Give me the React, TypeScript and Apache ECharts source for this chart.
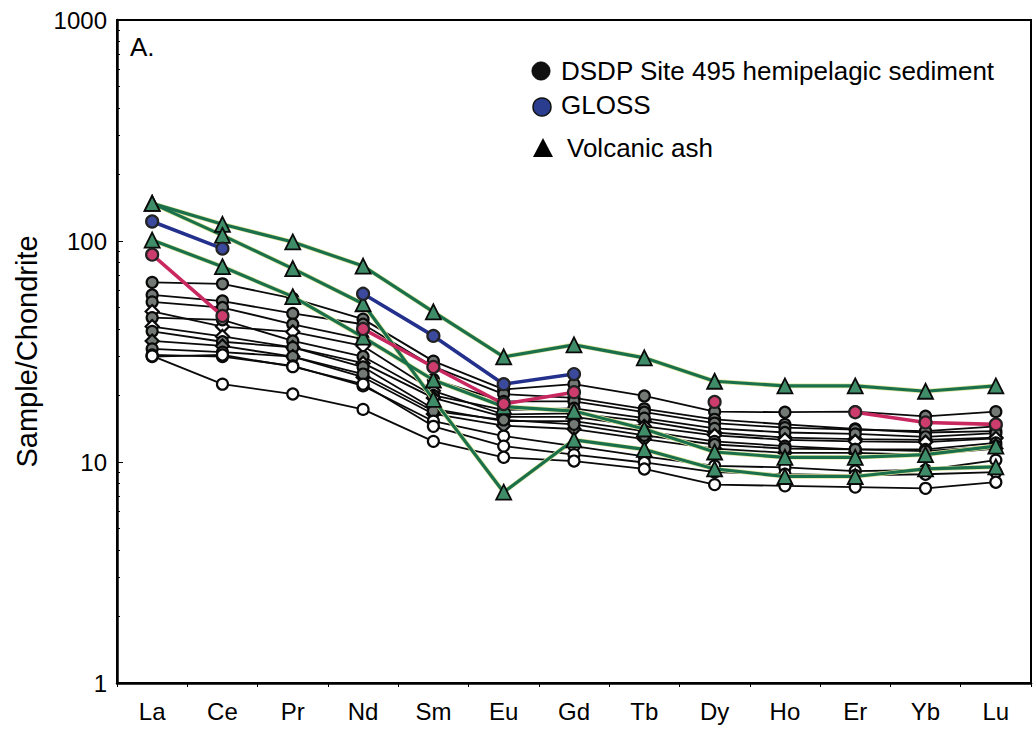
import React, { useEffect, useRef } from "react";
import * as echarts from "echarts";

const categories = ["La", "Ce", "Pr", "Nd", "Sm", "Eu", "Gd", "Tb", "Dy", "Ho", "Er", "Yb", "Lu"];
const yTickLabels = ["1", "10", "100", "1000"];

// DSDP Site 495 hemipelagic sediment samples
const sed1 = [65, 64, 55, 44.3, 28.6, 21.3, 22.5, 19.9, 16.9, 16.8, 16.9, 16.1, 16.9];
const sed2 = [57, 53.5, 47, 42, 27, 20.3, 19.5, 17.4, 15.6, 14.8, 14.1, 13.6, 13.8];
const sed3 = [53, 50, 42, 36, 23.6, 18.8, 18.8, 16.8, 15.0, 14.3, 14.0, 13.8, 14.5];
const sed4 = [48, 41, 38.8, 33.5, 21, 16.4, 16.6, 15.3, 13.6, 12.9, 12.7, 12.6, 12.9];
const sed5 = [45, 44, 35.3, 30, 20, 17.2, 17.5, 15.8, 14.2, 13.6, 13.4, 13.0, 13.5];
const sed6 = [41, 37, 33, 28, 19.5, 16, 16.0, 14.5, 13.2, 12.6, 12.4, 12.3, 12.8];
const sed7 = [39, 35, 33, 26.9, 17.4, 15.3, 15.3, 13.8, 12.4, 11.8, 11.4, 11.4, 12.2];
const sed8 = [35.3, 33.5, 30, 24.2, 16.5, 14.6, 14.1, 12.7, 11.5, 11.0, 11.0, 10.8, 11.5];
const sed9 = [32.5, 31.4, 30, 25, 17, 15.5, 14.8, 13.2, 12.0, 11.5, 11.4, 11.2, 11.8];
const sed10 = [30.5, 30, 27.2, 22.1, 15.3, 13.1, 11.8, 10.6, 9.6, 9.45, 9.1, 9.2, 10.2];
const sed11 = [30, 30.5, 27, 22.5, 14.5, 11.8, 10.8, 9.95, 9.0, 8.8, 8.7, 8.8, 9.0];
const sed12 = [30.2, 22.5, 20.3, 17.3, 12.4, 10.5, 10.1, 9.3, 7.9, 7.8, 7.7, 7.6, 8.1];

// GLOSS and the magenta reference sediment
const gloss = [122.5, 92.4, null, 57.7, 37.2, 22.5, 25.0, null, null, null, null, null, null];
const pinkSed = [86.7, 45.8, null, 40, 26.9, 18.3, 20.7, null, 18.7, null, 16.8, 15.1, 14.8];

// Volcanic ash samples
const ashA = [148, 119, 99, 77, 47.8, 29.9, 33.9, 29.6, 23.2, 22.1, 22.1, 20.9, 22.1];
const ashB = [148, 106, 75, 52, 19.2, 7.3, 12.6, 11.4, 9.3, 8.6, 8.6, 9.3, 9.5];
const ashC = [101, 76.5, 56, 36.7, 23.5, 17.8, 17, 14.1, 11.1, 10.5, 10.5, 10.8, 11.8];

const GRAY = "#737a76";
const WHITE = "#ffffff";

const sedDefs: [Array<number>, string, string][] = [
  [sed1, "circle", GRAY],
  [sed2, "circle", GRAY],
  [sed3, "circle", GRAY],
  [sed4, "diamond", WHITE],
  [sed5, "circle", GRAY],
  [sed6, "diamond", WHITE],
  [sed7, "circle", GRAY],
  [sed8, "diamond", GRAY],
  [sed9, "circle", GRAY],
  [sed10, "circle", WHITE],
  [sed11, "circle", WHITE],
  [sed12, "circle", WHITE],
];

const FONT = "Liberation Sans";

export default function App() {
  const ref = useRef<HTMLDivElement>(null);
  useEffect(() => {
    document.body.style.margin = "0";
    const chart = echarts.init(ref.current as HTMLDivElement, null, { renderer: "svg" });

    const series: any[] = [];
    sedDefs.forEach(([data, symbol, fill], i) => {
      series.push({
        name: "sed" + i,
        type: "line",
        data,
        symbol,
        symbolSize: symbol === "diamond" ? 13 : 11,
        showAllSymbol: true,
        connectNulls: false,
        lineStyle: { color: "#0a0a0a", width: 1.8 },
        itemStyle: { color: fill, borderColor: "#0a0a0a", borderWidth: 2.2 },
        z: 2,
        silent: true,
      });
    });
    [ashA, ashB, ashC].forEach((data, i) => {
      series.push({
        name: "ashHalo" + i,
        type: "line",
        data,
        symbol: "none",
        lineStyle: { color: "#dfe49c", width: 4.6 },
        z: 3,
        silent: true,
      });
      series.push({
        name: "ash" + i,
        type: "line",
        data,
        symbol: "triangle",
        symbolSize: 15,
        showAllSymbol: true,
        lineStyle: { color: "#19704a", width: 3.2 },
        itemStyle: { color: "#3f8c68", borderColor: "#0a0a0a", borderWidth: 1.8 },
        z: 4,
        silent: true,
      });
    });
    series.push({
      name: "pink",
      type: "line",
      data: pinkSed,
      symbol: "circle",
      symbolSize: 12,
      showAllSymbol: true,
      connectNulls: false,
      lineStyle: { color: "#c8285f", width: 3.6 },
      itemStyle: { color: "#cc3c6c", borderColor: "#222", borderWidth: 2.2 },
      z: 5,
      silent: true,
    });
    series.push({
      name: "GLOSS",
      type: "line",
      data: gloss,
      symbol: "circle",
      symbolSize: 12,
      showAllSymbol: true,
      connectNulls: false,
      lineStyle: { color: "#24318c", width: 3.6 },
      itemStyle: { color: "#3b4a9c", borderColor: "#222", borderWidth: 2.2 },
      z: 6,
      silent: true,
    });

    chart.setOption({
      animation: false,
      backgroundColor: "#ffffff",
      grid: {
        left: 117,
        right: 4,
        top: 20,
        bottom: 47,
        show: true,
        borderColor: "#000",
        borderWidth: 2,
        backgroundColor: "transparent",
      },
      xAxis: {
        type: "category",
        data: categories,
        boundaryGap: true,
        axisLine: { lineStyle: { color: "#000", width: 2.5 } },
        axisTick: { show: true, length: 4, lineStyle: { color: "#000", width: 1 } },
        axisLabel: { color: "#000", fontSize: 24, fontFamily: FONT, margin: 16 },
        splitLine: { show: false },
      },
      yAxis: {
        type: "log",
        logBase: 10,
        min: 1,
        max: 1000,
        name: "Sample/Chondrite",
        nameLocation: "middle",
        nameGap: 76,
        nameTextStyle: { color: "#000", fontSize: 29, fontFamily: FONT },
        axisLine: { show: true, lineStyle: { color: "#000", width: 2.5 } },
        axisTick: { show: true, inside: true, length: 6, lineStyle: { color: "#000" } },
        minorTick: { show: true, splitNumber: 9, length: 3, lineStyle: { color: "#000" } },
        axisLabel: {
          color: "#000",
          fontSize: 24,
          fontFamily: FONT,
          margin: 10,
          formatter: (v: number) => {
            const idx = Math.round(Math.log10(v));
            return yTickLabels[idx] ?? String(v);
          },
        },
        splitLine: { show: false },
      },
      graphic: [
        {
          type: "text",
          left: 130,
          top: 34,
          style: { text: "A.", fontSize: 26, fontFamily: FONT, fill: "#000" },
        },
        {
          type: "circle",
          shape: { cx: 541, cy: 71, r: 9 },
          style: { fill: "#111", stroke: "#000", lineWidth: 1 },
        },
        {
          type: "text",
          x: 561,
          y: 71,
          style: {
            text: "DSDP Site 495 hemipelagic sediment",
            fontSize: 26,
            fontFamily: FONT,
            fill: "#000",
            verticalAlign: "middle",
          },
        },
        {
          type: "circle",
          shape: { cx: 542, cy: 107, r: 9 },
          style: { fill: "#2b3d8f", stroke: "#111", lineWidth: 1.5 },
        },
        {
          type: "text",
          x: 561,
          y: 105,
          style: { text: "GLOSS", fontSize: 26, fontFamily: FONT, fill: "#000", verticalAlign: "middle" },
        },
        {
          type: "polygon",
          shape: { points: [[543, 138], [533, 157], [553, 157]] },
          style: { fill: "#000" },
        },
        {
          type: "text",
          x: 567,
          y: 148,
          style: { text: "Volcanic ash", fontSize: 26, fontFamily: FONT, fill: "#000", verticalAlign: "middle" },
        },
      ],
      series,
    });
    return () => chart.dispose();
  }, []);
  return <div ref={ref} style={{ width: 1035, height: 730 }} />;
}
